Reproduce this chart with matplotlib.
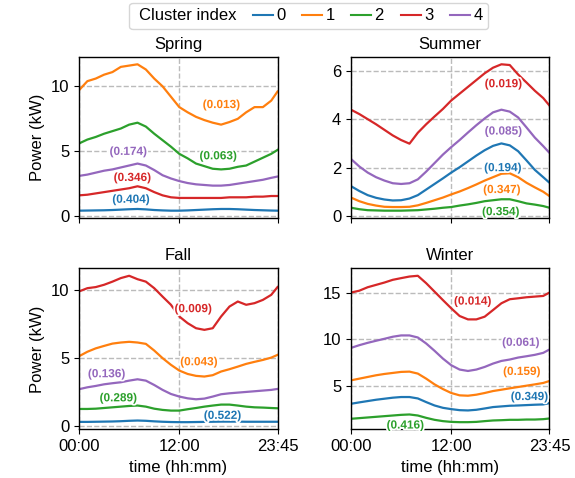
import matplotlib
matplotlib.use('Agg')
import matplotlib.pyplot as plt
import matplotlib.patheffects as pe
from matplotlib.lines import Line2D

plt.rcParams['font.family'] = ['Liberation Sans', 'DejaVu Sans']
plt.rcParams['font.size'] = 12

# time slots (quarter-hour index), sampled hourly + last slot 23:45
slots = list(range(0, 96, 4)) + [95]
tick_pos = [0, 48, 95]
tick_labels = ['00:00', '12:00', '23:45']

seasons = ['Spring', 'Summer', 'Fall', 'Winter']

# Spring, clusters 0..4
spring_0 = [0.42, 0.43, 0.44, 0.45, 0.47, 0.5, 0.53, 0.55, 0.52, 0.47, 0.44, 0.42, 0.42,
            0.44, 0.47, 0.5, 0.53, 0.55, 0.55, 0.53, 0.5, 0.47, 0.45, 0.43, 0.42]
spring_1 = [9.7, 10.4, 10.6, 10.9, 11.1, 11.5, 11.6, 11.7, 11.3, 10.6, 10.0, 9.2, 8.4,
            8.0, 7.65, 7.4, 7.2, 7.05, 7.25, 7.5, 8.0, 8.4, 8.4, 8.9, 9.6]
spring_2 = [5.6, 5.9, 6.1, 6.35, 6.55, 6.75, 7.05, 7.2, 6.9, 6.35, 5.85, 5.35, 4.8,
            4.45, 4.05, 3.85, 3.65, 3.6, 3.65, 3.8, 3.9, 4.2, 4.5, 4.8, 5.1]
spring_3 = [1.6, 1.65, 1.75, 1.85, 1.95, 2.05, 2.15, 2.3, 2.15, 1.85, 1.6, 1.45, 1.4,
            1.4, 1.4, 1.4, 1.4, 1.4, 1.45, 1.45, 1.45, 1.5, 1.5, 1.55, 1.55]
spring_4 = [3.1, 3.2, 3.35, 3.5, 3.6, 3.75, 3.9, 4.05, 3.9, 3.55, 3.15, 2.9, 2.7,
            2.55, 2.45, 2.4, 2.35, 2.35, 2.4, 2.5, 2.6, 2.7, 2.8, 2.95, 3.05]

# Summer
summer_0 = [1.25, 1.05, 0.88, 0.77, 0.7, 0.66, 0.67, 0.74, 0.88, 1.11, 1.34, 1.57, 1.81,
            2.03, 2.27, 2.51, 2.73, 2.91, 3.01, 2.93, 2.69, 2.31, 1.92, 1.62, 1.39]
summer_1 = [0.78, 0.63, 0.52, 0.45, 0.4, 0.39, 0.39, 0.4, 0.46, 0.56, 0.67, 0.78, 0.91,
            1.03, 1.17, 1.32, 1.48, 1.62, 1.76, 1.78, 1.62, 1.39, 1.2, 1.02, 0.84]
summer_2 = [0.36, 0.3, 0.26, 0.25, 0.24, 0.24, 0.24, 0.25, 0.26, 0.29, 0.32, 0.36, 0.39,
            0.45, 0.5, 0.56, 0.63, 0.67, 0.71, 0.71, 0.63, 0.54, 0.49, 0.43, 0.36]
summer_3 = [4.4, 4.22, 4.01, 3.8, 3.57, 3.34, 3.15, 3.0, 3.45, 3.8, 4.12, 4.43, 4.78,
            5.06, 5.34, 5.62, 5.9, 6.13, 6.27, 6.24, 5.85, 5.52, 5.18, 4.88, 4.57]
summer_4 = [2.37, 2.06, 1.81, 1.62, 1.48, 1.37, 1.34, 1.37, 1.53, 1.85, 2.2, 2.55, 2.86,
            3.15, 3.46, 3.76, 4.04, 4.29, 4.4, 4.32, 4.08, 3.67, 3.25, 2.9, 2.62]

# Fall
fall_0 = [0.3, 0.3, 0.31, 0.32, 0.33, 0.35, 0.38, 0.4, 0.38, 0.34, 0.31, 0.29, 0.28,
          0.28, 0.29, 0.3, 0.31, 0.32, 0.32, 0.32, 0.31, 0.31, 0.31, 0.31, 0.31]
fall_1 = [5.12, 5.45, 5.7, 5.88, 6.05, 6.13, 6.18, 6.13, 6.03, 5.54, 4.98, 4.49, 4.07,
          3.82, 3.68, 3.63, 3.73, 4.0, 4.17, 4.36, 4.56, 4.71, 4.85, 5.02, 5.22]
fall_2 = [1.25, 1.25, 1.27, 1.32, 1.37, 1.42, 1.47, 1.5, 1.42, 1.27, 1.18, 1.13, 1.13,
          1.23, 1.32, 1.42, 1.5, 1.57, 1.57, 1.5, 1.42, 1.37, 1.35, 1.32, 1.3]
fall_3 = [9.88, 10.12, 10.2, 10.37, 10.6, 10.86, 11.03, 10.78, 10.6, 10.12, 9.5, 8.9, 8.04,
          7.55, 7.18, 7.06, 7.18, 8.04, 8.77, 9.14, 8.9, 9.02, 9.26, 9.63, 10.2]
fall_4 = [2.7, 2.84, 2.94, 3.06, 3.14, 3.21, 3.33, 3.43, 3.33, 3.01, 2.65, 2.35, 2.16,
          2.03, 1.96, 2.01, 2.16, 2.33, 2.4, 2.45, 2.5, 2.55, 2.6, 2.65, 2.72]

# Winter
winter_0 = [3.14, 3.29, 3.43, 3.57, 3.68, 3.79, 3.86, 3.86, 3.71, 3.32, 2.96, 2.71, 2.57,
            2.46, 2.43, 2.5, 2.64, 2.79, 2.86, 2.93, 2.96, 3.0, 3.04, 3.07, 3.21]
winter_1 = [5.64, 5.82, 6.0, 6.18, 6.32, 6.43, 6.54, 6.57, 6.36, 5.82, 5.21, 4.71, 4.29,
            4.04, 4.0, 4.11, 4.29, 4.5, 4.64, 4.79, 4.93, 5.07, 5.21, 5.36, 5.57]
winter_2 = [1.54, 1.61, 1.68, 1.75, 1.82, 1.89, 1.96, 2.0, 1.89, 1.64, 1.43, 1.29, 1.21,
            1.18, 1.18, 1.21, 1.29, 1.36, 1.39, 1.43, 1.43, 1.46, 1.46, 1.5, 1.57]
winter_3 = [15.0, 15.2, 15.57, 15.82, 16.07, 16.36, 16.54, 16.71, 16.79, 16.0, 15.1, 14.2, 13.32,
            12.5, 12.14, 12.14, 12.43, 13.14, 13.86, 14.29, 14.39, 14.5, 14.57, 14.64, 15.0]
winter_4 = [9.1, 9.39, 9.64, 9.86, 10.07, 10.29, 10.43, 10.43, 10.21, 9.57, 8.79, 7.96, 7.25,
            6.79, 6.64, 6.79, 7.07, 7.43, 7.71, 7.86, 8.07, 8.21, 8.36, 8.57, 8.93]

# cluster shares (cluster 0..4)
spring_share = ['0.404', '0.013', '0.063', '0.346', '0.174']
summer_share = ['0.194', '0.347', '0.354', '0.019', '0.085']
fall_share = ['0.522', '0.043', '0.289', '0.009', '0.136']
winter_share = ['0.349', '0.159', '0.416', '0.014', '0.061']

# where the share labels go (slot, kW), cluster 0..4
spring_lbl = [(24.9, 1.26), (68.2, 8.56), (66.6, 4.61), (25.5, 2.94), (23.6, 4.95)]
summer_lbl = [(72.7, 1.99), (72.2, 1.09), (71.7, 0.18), (73.0, 5.45), (73.0, 3.5)]
fall_lbl = [(68.7, 0.74), (57.4, 4.68), (18.8, 2.03), (54.7, 8.58), (13.2, 3.8)]
winter_lbl = [(85.4, 3.86), (81.8, 6.54), (26.0, 0.82), (58.3, 14.04), (81.3, 9.64)]

data = {
    'Spring': ([spring_0, spring_1, spring_2, spring_3, spring_4], spring_share, spring_lbl),
    'Summer': ([summer_0, summer_1, summer_2, summer_3, summer_4], summer_share, summer_lbl),
    'Fall': ([fall_0, fall_1, fall_2, fall_3, fall_4], fall_share, fall_lbl),
    'Winter': ([winter_0, winter_1, winter_2, winter_3, winter_4], winter_share, winter_lbl),
}
colors = ['tab:blue', 'tab:orange', 'tab:green', 'tab:red', 'tab:purple']

fig, axes = plt.subplots(2, 2, figsize=(5.75, 4.78), dpi=100, sharex=True)
fig.subplots_adjust(left=0.1374, right=0.9556, bottom=0.1015, top=0.8808,
                    wspace=0.37, hspace=0.3135)

for ax, season in zip(axes.flat, seasons):
    curves, shares, lbls = data[season]
    for k in range(5):
        ax.plot(slots, curves[k], color=colors[k], lw=1.6, label=str(k))
        ax.text(lbls[k][0], lbls[k][1], '(' + shares[k] + ')', color=colors[k],
                fontsize=8.5, fontweight='bold', ha='center', va='center',
                path_effects=[pe.withStroke(linewidth=2.5, foreground='white')])
    ax.set_title(season, fontsize=12)
    ax.set_xlim(0, 95)
    ax.set_xticks(tick_pos)
    ax.set_xticklabels(tick_labels)
    ax.grid(True, ls='--', color='#bbbbbb', lw=1)
    for s in ax.spines.values():
        s.set_linewidth(1.0)

axes[0, 0].set_ylabel('Power (kW)')
axes[1, 0].set_ylabel('Power (kW)')
axes[1, 0].set_xlabel('time (hh:mm)')
axes[1, 1].set_xlabel('time (hh:mm)')

# legend with the heading as a first entry without handle
dummy = Line2D([], [], ls='', marker='')
handles = [dummy] + [Line2D([], [], color=c, lw=1.5) for c in colors]
labels = ['Cluster index'] + [str(k) for k in range(5)]
leg = fig.legend(handles, labels, ncol=6, loc='upper center',
                 bbox_to_anchor=(0.537, 1.0), handlelength=1.2,
                 handletextpad=0.2, columnspacing=1.0, borderpad=0.35,
                 borderaxespad=0.15, fontsize=12)
for vpack in leg._legend_handle_box.get_children()[:1]:
    for hpack in vpack.get_children():
        hpack.get_children()[0].set_width(0)

fig.savefig('out.png', dpi=100)
